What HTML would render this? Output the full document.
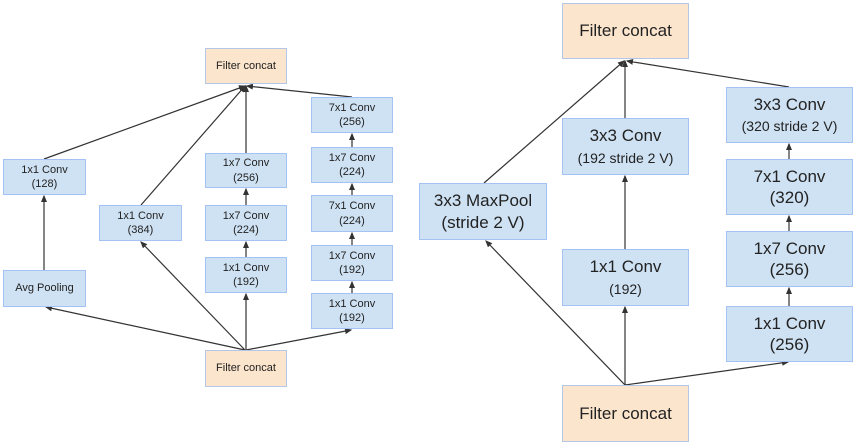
<!DOCTYPE html>
<html><head><style>
body{margin:0;background:#fff;width:867px;height:447px;position:relative;overflow:hidden;font-family:"Liberation Sans",sans-serif;color:#222}
.b{position:absolute;box-sizing:border-box;background:#cfe2f3;border:1.5px solid #a4c2f4;display:flex;align-items:center;justify-content:center;text-align:center;line-height:1.3}
.o{background:#fce5cd;border-color:#b4c7e7}
.s{font-size:11px}
.l{font-size:17px;line-height:1.25}
.l small{font-size:14px;line-height:1.1}
svg{position:absolute;left:0;top:0}
</style></head><body>
<svg width="867" height="447">
<defs><marker id="a" markerWidth="6" markerHeight="6" refX="5" refY="3" orient="auto"><path d="M0,0.5 L6,3 L0,5.5z" fill="#333"/></marker></defs>
<g stroke="#333" stroke-width="1.2" fill="none" marker-end="url(#a)">
<line x1="44" y1="159" x2="245" y2="86"/>
<line x1="141" y1="205" x2="245" y2="86"/>
<line x1="246" y1="153" x2="246" y2="86"/>
<line x1="352" y1="97" x2="247" y2="86"/>
<line x1="44" y1="270" x2="44" y2="196"/>
<line x1="246" y1="205" x2="246" y2="189"/>
<line x1="246" y1="257" x2="246" y2="242"/>
<line x1="352" y1="147" x2="352" y2="134"/>
<line x1="352" y1="195" x2="352" y2="184"/>
<line x1="352" y1="245" x2="352" y2="233"/>
<line x1="352" y1="293" x2="352" y2="282"/>
<line x1="245" y1="350" x2="46" y2="307"/>
<line x1="245" y1="350" x2="141" y2="242"/>
<line x1="246" y1="350" x2="246" y2="294"/>
<line x1="246" y1="350" x2="351" y2="330"/>
<line x1="484" y1="183" x2="624" y2="61"/>
<line x1="625" y1="118" x2="625" y2="61"/>
<line x1="789" y1="87" x2="627" y2="61"/>
<line x1="625" y1="249" x2="625" y2="176"/>
<line x1="789" y1="159" x2="789" y2="144"/>
<line x1="789" y1="231" x2="789" y2="216"/>
<line x1="789" y1="306" x2="789" y2="288"/>
<line x1="625" y1="385" x2="486" y2="241"/>
<line x1="625" y1="385" x2="625" y2="307"/>
<line x1="625" y1="385" x2="788" y2="362"/>
</g></svg>
<div class="b o s" style="left:205px;top:48px;width:82px;height:36px">Filter concat</div>
<div class="b s" style="left:3px;top:159px;width:83px;height:36px">1x1 Conv<br>(128)</div>
<div class="b s" style="left:3px;top:270px;width:83px;height:37px">Avg Pooling</div>
<div class="b s" style="left:99px;top:205px;width:83px;height:36px">1x1 Conv<br>(384)</div>
<div class="b s" style="left:205px;top:153px;width:82px;height:35px">1x7 Conv<br>(256)</div>
<div class="b s" style="left:205px;top:205px;width:82px;height:36px">1x7 Conv<br>(224)</div>
<div class="b s" style="left:205px;top:257px;width:82px;height:36px">1x1 Conv<br>(192)</div>
<div class="b s" style="left:311px;top:97px;width:82px;height:36px">7x1 Conv<br>(256)</div>
<div class="b s" style="left:311px;top:147px;width:82px;height:36px">1x7 Conv<br>(224)</div>
<div class="b s" style="left:311px;top:195px;width:82px;height:37px">7x1 Conv<br>(224)</div>
<div class="b s" style="left:311px;top:245px;width:82px;height:36px">1x7 Conv<br>(192)</div>
<div class="b s" style="left:311px;top:293px;width:82px;height:36px">1x1 Conv<br>(192)</div>
<div class="b o s" style="left:205px;top:350px;width:82px;height:37px">Filter concat</div>
<div class="b o l" style="left:562px;top:3px;width:127px;height:56px">Filter concat</div>
<div class="b l" style="left:562px;top:118px;width:127px;height:57px"><div>3x3 Conv<br><small>(192 stride 2 V)</small></div></div>
<div class="b l" style="left:562px;top:249px;width:127px;height:57px"><div>1x1 Conv<br><small>(192)</small></div></div>
<div class="b l" style="left:419px;top:183px;width:128px;height:57px">3x3 MaxPool<br>(stride 2 V)</div>
<div class="b l" style="left:726px;top:87px;width:127px;height:56px"><div>3x3 Conv<br><small>(320 stride 2 V)</small></div></div>
<div class="b l" style="left:726px;top:159px;width:127px;height:56px">7x1 Conv<br>(320)</div>
<div class="b l" style="left:726px;top:231px;width:127px;height:56px">1x7 Conv<br>(256)</div>
<div class="b l" style="left:726px;top:306px;width:127px;height:56px">1x1 Conv<br>(256)</div>
<div class="b o l" style="left:562px;top:385px;width:127px;height:57px">Filter concat</div>
</body></html>
